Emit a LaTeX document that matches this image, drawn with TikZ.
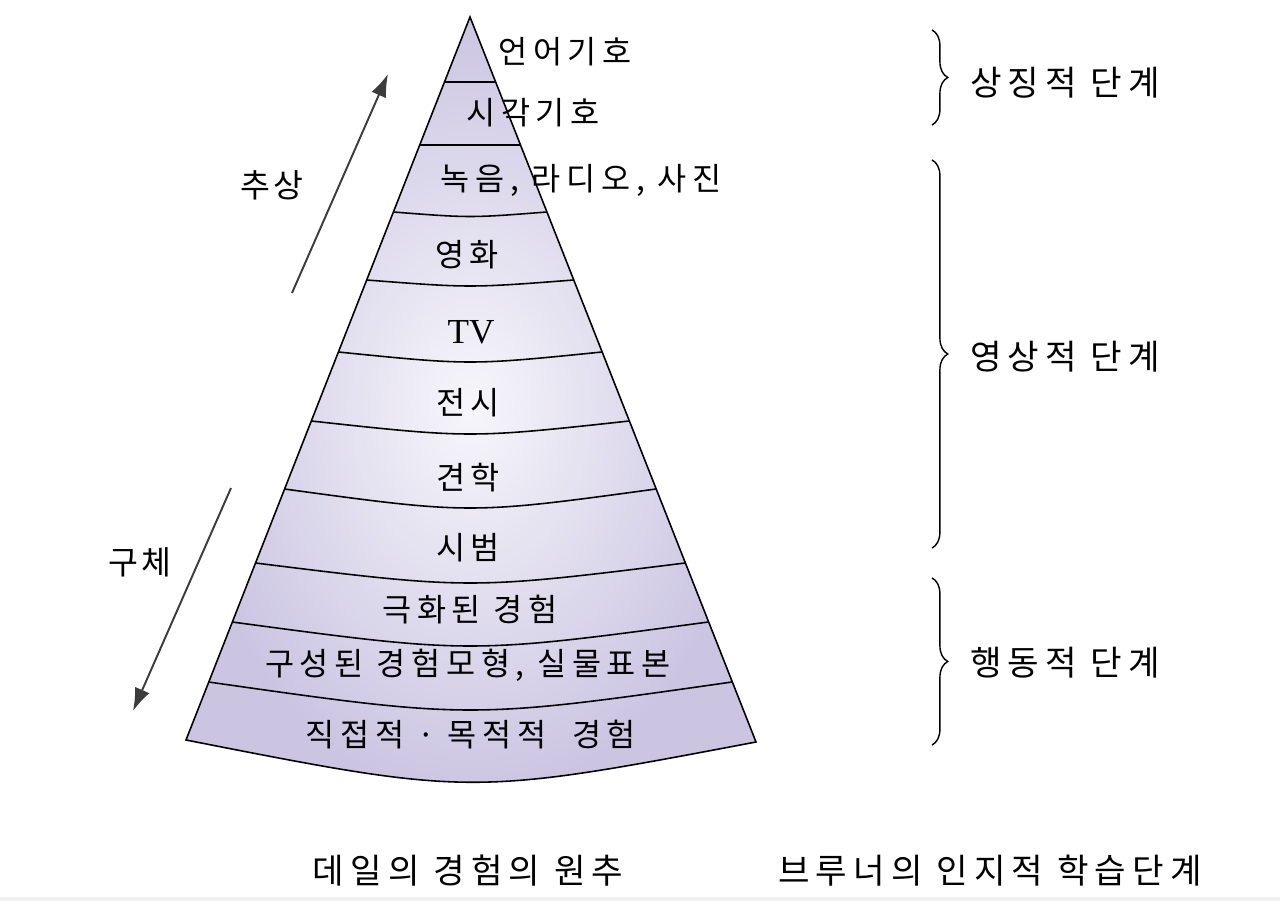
\documentclass[tikz,border=0pt]{standalone}
\usepackage{fontspec}
\setmainfont{Noto Sans CJK KR}[LetterSpace=8]
\newfontfamily\spaced{Noto Sans CJK KR}[LetterSpace=18]
\newfontfamily\serifen{Liberation Serif}
\usepackage{tikz}
\usetikzlibrary{arrows.meta,decorations.pathreplacing}
\definecolor{conedark}{HTML}{CBC5E2}
\definecolor{conelight}{HTML}{F7F6FB}
\definecolor{arrowgray}{HTML}{3C3C3C}

\begin{document}
\begin{tikzpicture}[x=0.02cm, y=-0.02cm,
  layer/.style={font=\spaced\fontsize{18}{20}\selectfont, inner sep=0pt},
  stage/.style={font=\spaced\fontsize{19.5}{22}\selectfont, inner sep=0pt},
  side/.style={font=\fontsize{18.5}{22}\selectfont, inner sep=0pt},
  rim/.style={line width=0.9pt},
  flow/.style={draw=arrowgray, line width=1.1pt, -{Latex[length=13pt, width=9pt]}},
  stagebrace/.style={decorate, decoration={brace, amplitude=9pt}, line width=0.8pt},
]
\useasboundingbox (0,0) rectangle (1280,901);
\fill[gray!12] (0,897) rectangle (1280,901);

% cone of experience
\coordinate (apex) at (470,17);
\coordinate (baseL) at (186,740);
\coordinate (baseR) at (756,742);
\shade[inner color=conelight, outer color=conedark]
  (apex) -- (baseL) .. controls (471,796) .. (baseR) -- cycle;
\foreach \y/\s in {82/0, 145/0, 212/4.5, 280/6, 352/10, 421/13, 489/19, 563/20, 622/24, 682/28} {
  \pgfmathsetmacro{\xl}{470-0.393*(\y-17)}
  \pgfmathsetmacro{\xr}{470+0.394*(\y-17)}
  \pgfmathsetmacro{\xm}{(\xl+\xr)/2}
  \pgfmathsetmacro{\cy}{\y+4*\s/3}
  \draw[rim] (\xl,\y) .. controls (\xm,\cy) .. (\xr,\y);
}
\draw[rim] (apex) -- (baseL) .. controls (471,796) .. (baseR) -- cycle;

% layers
\node[layer] (verbal) at (565,52) {언어기호};
\node[layer] (visual) at (533,113) {시각기호};
\node[layer] (radio) at (581,180) {녹음, 라디오, 사진};
\node[layer] (movie) at (467,255) {영화};
\node[layer, font=\serifen\fontsize{20}{22}\selectfont] (tv) at (471,332) {TV};
\node[layer] (exhibit) at (468,403) {전시};
\node[layer] (trip) at (468,478) {견학};
\node[layer] (demo) at (468,548) {시범};
\node[layer] (drama) at (470,610) {극화된 경험};
\node[layer] (model) at (468,665) {구성된 경험모형, 실물표본};
\node[layer] (direct) at (471,735) {직접적 · 목적적 \ 경험};

% abstract / concrete
\coordinate (absFrom) at (292,293);
\coordinate (absTo) at (388,74);
\draw[flow] (absFrom) -- (absTo);
\node[side] (abstract) at (272,185) {추상};
\coordinate (conFrom) at (231,488);
\coordinate (conTo) at (133,711);
\draw[flow] (conFrom) -- (conTo);
\node[side] (concrete) at (140,562) {구체};

% Bruner stages
\draw[stagebrace] (932,30) -- (932,125);
\node[stage] (symbolic) at (1065,83) {상징적 단계};
\draw[stagebrace] (932,160) -- (932,548);
\node[stage] (iconic) at (1065,357) {영상적 단계};
\draw[stagebrace] (932,578) -- (932,745);
\node[stage] (enactive) at (1065,663) {행동적 단계};

\node[stage] (dale) at (468,871) {데일의 경험의 원추};
\node[stage] (bruner) at (990,871) {브루너의 인지적 학습단계};
\end{tikzpicture}
\end{document}
